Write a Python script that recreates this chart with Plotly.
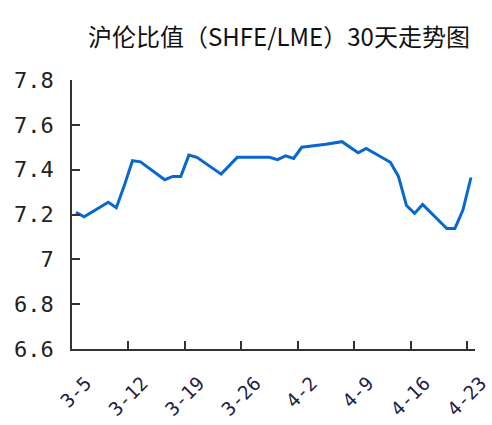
import plotly.graph_objects as go

# ---- data ----
dates = [
    "2013-03-05", "2013-03-06", "2013-03-09", "2013-03-10", "2013-03-11",
    "2013-03-12", "2013-03-13", "2013-03-16", "2013-03-17", "2013-03-18",
    "2013-03-19", "2013-03-20", "2013-03-23", "2013-03-25", "2013-03-29",
    "2013-03-30", "2013-03-31", "2013-04-01", "2013-04-02", "2013-04-04",
    "2013-04-05", "2013-04-07", "2013-04-09", "2013-04-10", "2013-04-12",
    "2013-04-13", "2013-04-14", "2013-04-15", "2013-04-16", "2013-04-17",
    "2013-04-20", "2013-04-21", "2013-04-22", "2013-04-23",
]
ratio = [
    7.21, 7.19, 7.255, 7.23, 7.33,
    7.44, 7.435, 7.355, 7.37, 7.37,
    7.465, 7.455, 7.38, 7.455, 7.455,
    7.445, 7.462, 7.45, 7.50, 7.508,
    7.513, 7.525, 7.475, 7.495, 7.455,
    7.433, 7.37, 7.24, 7.205, 7.245,
    7.137, 7.137, 7.22, 7.365,
]
x_tick_dates = ["2013-03-05", "2013-03-12", "2013-03-19", "2013-03-26",
                "2013-04-02", "2013-04-09", "2013-04-16", "2013-04-23"]
x_tick_labels = ["3-5", "3-12", "3-19", "3-26", "4-2", "4-9", "4-16", "4-23"]
y_tick_vals = [6.6, 6.8, 7.0, 7.2, 7.4, 7.6, 7.8]
y_tick_labels = ["6.6", "6.8", "7", "7.2", "7.4", "7.6", "7.8"]
title_text = "沪伦比值（SHFE/LME）30天走势图"

# points sit in the middle of each day slot (date axis, between tick marks)
x_mid = [d + " 12:00" for d in dates]

fig = go.Figure()
fig.add_trace(go.Scatter(
    x=x_mid, y=ratio, mode="lines",
    line=dict(color="#0868d0", width=3),
    hoverinfo="skip", showlegend=False,
))

mono = "DejaVu Sans Mono"
fig.update_layout(
    width=492, height=425,
    margin=dict(l=72, r=17, t=80, b=76, autoexpand=False),
    paper_bgcolor="white", plot_bgcolor="white",
    title=dict(text=title_text, x=0.567, xanchor="center", y=0.912, yanchor="middle",
               automargin=False,
               font=dict(family="Noto Sans CJK SC", size=24, color="#111111")),
    xaxis=dict(
        type="date", range=["2013-03-05", "2013-04-24"], automargin=False,
        tickmode="array", tickvals=x_tick_dates, ticktext=x_tick_labels,
        tickangle=-45, ticks="inside", ticklen=8, tickwidth=1.5, tickcolor="#333333",
        showline=True, linecolor="#333333", linewidth=1.5,
        showgrid=False, zeroline=False,
        tickfont=dict(family=mono, size=19, color="#222244"),
        ticklabelshift=14, ticklabelstandoff=14,
    ),
    yaxis=dict(
        range=[6.6, 7.8], automargin=False,
        tickmode="array", tickvals=y_tick_vals, ticktext=y_tick_labels,
        ticks="inside", ticklen=8, tickwidth=1.5, tickcolor="#333333",
        showline=True, linecolor="#333333", linewidth=1.5,
        showgrid=False, zeroline=False,
        tickfont=dict(family=mono, size=22, color="#222222"),
        ticklabelstandoff=12,
    ),
)

fig.write_html("out.html", config={"displayModeBar": False},
               post_script="document.body.style.margin='0';document.body.style.padding='0';")
